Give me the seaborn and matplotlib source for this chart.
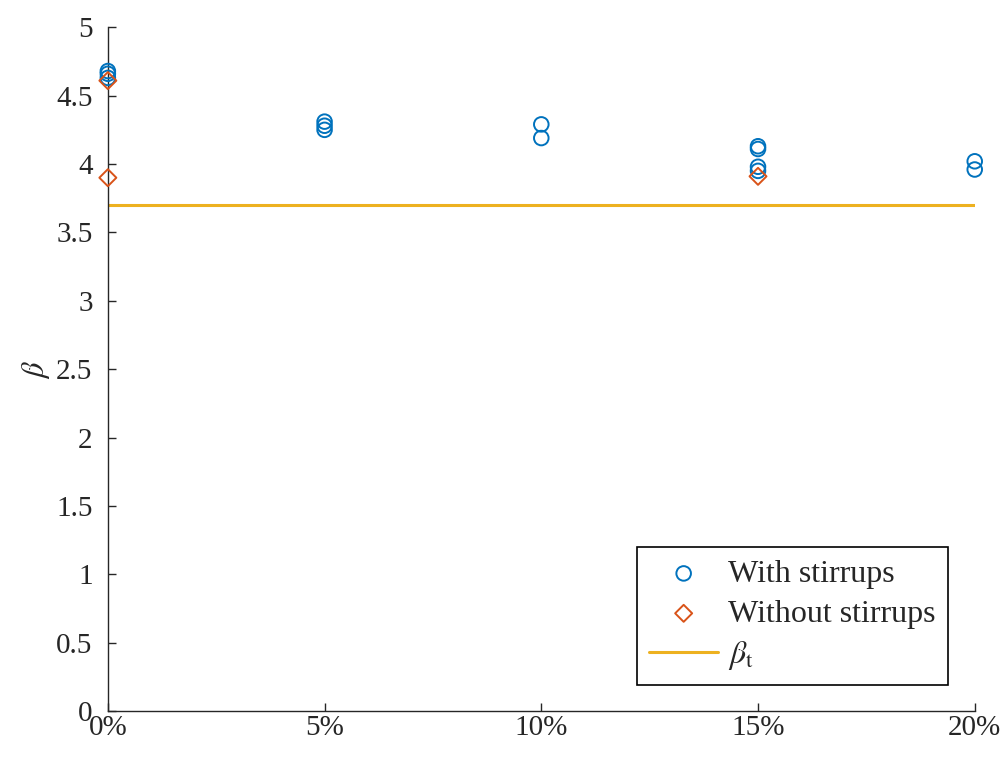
import numpy as np
import pandas as pd
import matplotlib
matplotlib.use("Agg")
import matplotlib.pyplot as plt
import seaborn as sns

# Data
with_x = [0, 0, 0, 5, 5, 5, 10, 10, 15, 15, 15, 15, 20, 20]
with_beta = [4.68, 4.66, 4.63, 4.31, 4.28, 4.25, 4.29, 4.19, 4.13, 4.11, 3.98, 3.95, 4.02, 3.96]
without_x = [0, 0, 15]
without_beta = [4.61, 3.90, 3.91]
beta_t = 3.70
xticks = [0, 5, 10, 15, 20]
xtick_labels = ["0%", "5%", "10%", "15%", "20%"]
yticks = [0, 0.5, 1, 1.5, 2, 2.5, 3, 3.5, 4, 4.5, 5]

sns.set_style("ticks")
plt.rcParams['font.family'] = ['Liberation Serif', 'DejaVu Serif']
plt.rcParams['mathtext.fontset'] = 'stix'

fig = plt.figure(figsize=(10.08, 7.58), dpi=100)
ax = fig.add_axes([0.107, 0.062, 0.860, 0.902])

df_w = pd.DataFrame({"x": with_x, "beta": with_beta})
df_wo = pd.DataFrame({"x": without_x, "beta": without_beta})
df_t = pd.DataFrame({"x": [xticks[0], xticks[-1]], "beta": [beta_t, beta_t]})

sns.scatterplot(data=df_w, x="x", y="beta", ax=ax, marker="o", s=110,
                facecolors="none", edgecolor="#0072BD", linewidth=1.4,
                label="With stirrups", clip_on=False, zorder=3)
sns.scatterplot(data=df_wo, x="x", y="beta", ax=ax, marker="D", s=75,
                facecolors="none", edgecolor="#D95319", linewidth=1.4,
                label="Without stirrups", clip_on=False, zorder=4)
sns.lineplot(data=df_t, x="x", y="beta", ax=ax, color="#EDB120", linewidth=2.2,
             label=r"$\beta_{\rm t}$")

ax.set_xlim(0, 20)
ax.set_ylim(0, 5)
ax.set_xticks(xticks)
ax.set_xticklabels(xtick_labels)
ax.set_yticks(yticks)
ax.set_yticklabels(["0", "0.5", "1", "1.5", "2", "2.5", "3", "3.5", "4", "4.5", "5"])
ax.tick_params(direction="in", colors="#262626", length=6, width=1)
ax.tick_params(axis="y", pad=11)
ax.tick_params(axis="x", pad=3)
ax.set_xlabel("")
ax.set_ylabel(r"$\beta$", fontsize=22, color="#262626", labelpad=3)
for s in ["top", "right"]:
    ax.spines[s].set_visible(False)
for s in ["left", "bottom"]:
    ax.spines[s].set_color("#262626")
    ax.spines[s].set_linewidth(1)
for lbl in ax.get_xticklabels() + ax.get_yticklabels():
    lbl.set_fontsize(21)

leg = ax.legend(loc="lower right", bbox_to_anchor=(0.969, 0.038), fontsize=23,
                frameon=True, fancybox=False, edgecolor="black", framealpha=1,
                handlelength=2.15, handletextpad=0.3, borderpad=0.4,
                labelspacing=0.33, borderaxespad=0)
leg.get_frame().set_linewidth(1.2)
for t in leg.get_texts():
    t.set_color("#262626")

fig.savefig("out.png", dpi=100)
